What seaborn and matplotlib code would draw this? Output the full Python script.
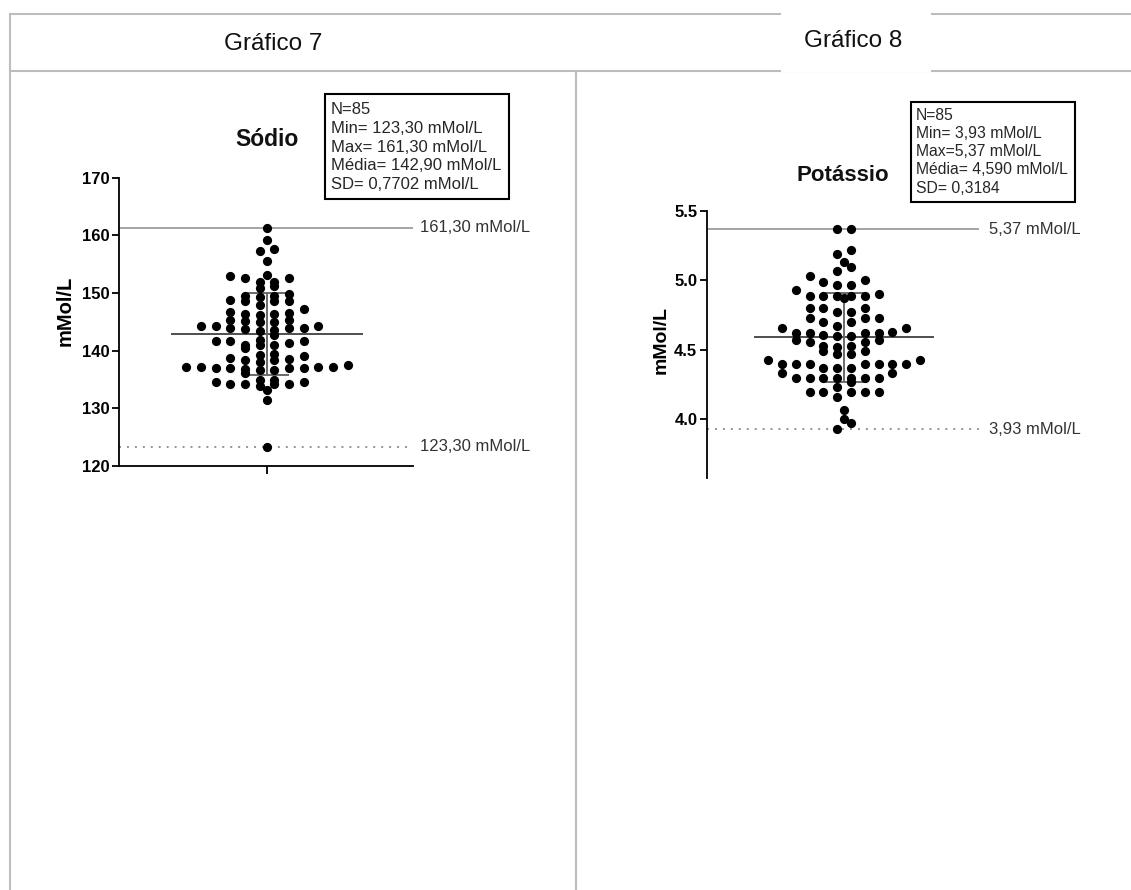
import numpy as np
import pandas as pd
import matplotlib
matplotlib.use("Agg")
import matplotlib.pyplot as plt
from matplotlib.lines import Line2D
from matplotlib.patches import Rectangle
import seaborn as sns

# ---------------- data ----------------
sodio = [137.2,
         144.3, 137.2, 134.9,
         149.3, 146.3, 143.9, 141.6, 139.3, 137.0, 133.8,
         153.0, 149.5, 146.5, 143.8, 140.9, 138.4, 136.6, 134.5,
         150.9, 149.4, 147.9, 146.7, 145.2, 143.4, 140.9, 139.0, 138.1, 137.0, 134.2,
         157.3, 151.9, 148.8, 145.4, 143.9, 142.7, 141.3, 137.5, 136.1, 134.9, 133.2,
         161.3, 159.2, 155.6, 131.4, 123.3,
         157.6, 152.6, 151.2, 149.9, 148.6, 145.4, 143.9, 141.9, 140.4, 138.8, 136.6, 134.2,
         153.2, 151.9, 148.6, 144.9, 141.6, 138.5, 136.8, 134.2,
         152.6, 148.6, 147.2, 146.2, 145.0, 144.2, 140.9, 137.0, 134.5,
         146.3, 143.6, 141.6, 139.5, 138.4, 137.0, 134.2,
         144.2, 137.2,
         137.2]

potassio = [4.40, 4.30,
            4.89, 4.62, 4.57, 4.40, 4.33,
            4.97, 4.89, 4.77, 4.67, 4.61, 4.49, 4.40, 4.30, 4.20,
            5.00, 4.80, 4.73, 4.66, 4.60, 4.53, 4.47, 4.37, 4.30, 4.20,
            5.37, 5.19, 5.13, 5.03, 4.93, 4.87, 4.80, 4.73, 4.62, 4.56, 4.49,
            4.43, 4.37, 4.30, 4.20, 4.00, 3.93,
            4.07,
            5.37, 5.22, 5.10, 4.99, 4.90, 4.70, 4.62, 4.56, 4.40, 4.30, 4.23, 4.16, 3.97,
            5.07, 4.97, 4.89, 4.77, 4.70, 4.63, 4.53, 4.47, 4.40, 4.33, 4.27, 4.20,
            4.89, 4.80, 4.73, 4.66, 4.60, 4.52, 4.40, 4.30, 4.20,
            4.89, 4.62, 4.57, 4.43, 4.37, 4.30,
            4.40]

# summary values (as reported)
sodio_mean, sodio_min, sodio_max = 142.90, 123.30, 161.30
sodio_sd_bar = 7.15
potassio_mean, potassio_min, potassio_max = 4.590, 3.93, 5.37
potassio_sd = 0.3184

sodio_ticks = [120, 130, 140, 150, 160, 170]
potassio_ticks = [4.0, 4.5, 5.0, 5.5]

sodio_stats = ["N=85", "Min= 123,30 mMol/L", "Max= 161,30 mMol/L",
               "Média= 142,90 mMol/L", "SD= 0,7702 mMol/L"]
potassio_stats = ["N=85", "Min= 3,93 mMol/L", "Max=5,37 mMol/L",
                  "Média= 4,590 mMol/L", "SD= 0,3184"]

# ---------------- style ----------------
sns.set_theme(style="white")
plt.rcParams["font.family"] = ["Liberation Sans", "DejaVu Sans"]

W, H = 1131, 890
fig = plt.figure(figsize=(W / 100, H / 100), dpi=100)
fig.patch.set_facecolor("white")


def fx(px):
    return px / W


def fy(py):
    return 1 - py / H


def grid_offsets(values, bin_height, bin_centre):
    """Column-scatter layout: values in the same y-bin share a row,
    spread outwards on half-step columns (single values stay centred)."""
    vals = np.asarray(values, dtype=float)
    bins = np.floor((vals - bin_centre) / bin_height + 0.5).astype(int)
    offsets = np.zeros(len(vals))
    for b in np.unique(bins):
        row = np.where(bins == b)[0]
        row = row[np.argsort(vals[row], kind="stable")]
        if len(row) == 1:
            continue
        for k, i in enumerate(row):
            col = k // 2 + 0.5
            offsets[i] = -col if k % 2 == 0 else col
    return offsets


GREY_LINE = "#8c8c8c"
TXT = "#262626"


def dot_panel(ax, values, bin_h, bin_c, mean, sd, vmin, vmax, xlim, ylim, ticks,
              tick_fmt, max_lab, min_lab, lab_off):
    df = pd.DataFrame({"valor": values})
    df["col"] = grid_offsets(df["valor"], bin_h, bin_c)
    ax.hlines(vmax, xlim[0], xlim[1], color=GREY_LINE, lw=1.1, zorder=1)
    ax.hlines(vmin, xlim[0], xlim[1], color=GREY_LINE, lw=1.3,
              linestyles=(0, (1.1, 3.3)), zorder=1)
    ax.hlines(mean, -6.5, 6.5, color="#404040", lw=1.3, zorder=2)
    ax.vlines(0, mean - sd, mean + sd, color="#6a6a6a", lw=1.4, zorder=2)
    ax.hlines([mean - sd, mean + sd], -1.5, 1.5, color="#6a6a6a", lw=1.4, zorder=2)
    sns.scatterplot(data=df, x="col", y="valor", ax=ax, color="black", s=44,
                    linewidth=0, zorder=3, legend=False)
    ax.set_xlim(*xlim)
    ax.set_ylim(*ylim)
    ax.set_yticks(ticks)
    ax.set_yticklabels([tick_fmt(t) for t in ticks])
    ax.set_xlabel("")
    ax.tick_params(axis="y", left=True, length=5, width=1.3, pad=2,
                   labelsize=12, colors="black")
    for lab in ax.get_yticklabels():
        lab.set_fontweight("bold")
    for val, lab in ((vmax, max_lab), (vmin, min_lab)):
        ax.annotate(lab, xy=(1, val), xycoords=("axes fraction", "data"),
                    xytext=(lab_off, 0), textcoords="offset points",
                    ha="left", va="center", fontsize=12, color="#333333")
    ax.set_facecolor("none")
    return ax


# ---- Sódio panel ----
ax1 = fig.add_axes([fx(119), fy(466), 294 / W, 288.3 / H])
dot_panel(ax1, sodio, 1.4, 137.0, sodio_mean, sodio_sd_bar, sodio_min, sodio_max,
          (-10.07, 9.93), (120, 170), sodio_ticks,
          lambda t: f"{t:d}", "161,30 mMol/L", "123,30 mMol/L", 5)
sns.despine(ax=ax1)
for side in ("left", "bottom"):
    ax1.spines[side].set_linewidth(1.3)
    ax1.spines[side].set_color("black")
ax1.set_xticks([0])
ax1.set_xticklabels([""])
ax1.tick_params(axis="x", bottom=True, length=6, width=1.3, colors="black")
ax1.set_ylabel("mMol/L", fontsize=14.5, fontweight="bold", color="black",
               va="center", ha="center")
ax1.yaxis.set_label_coords((65 - 119) / 294, (466 - 311) / 288.3)
ax1.text((267 - 119) / 294, (466 - 140) / 288.3, "Sódio", transform=ax1.transAxes,
         ha="center", va="center", fontsize=16.5, fontweight="bold", color="#111111")

# ---- Potássio panel ----
k_bottom = 4.0 - (478.3 - 419.3) / 138.9
ax2 = fig.add_axes([fx(707), fy(478.3), 272 / W, 267.3 / H])
dot_panel(ax2, potassio, 0.075, 4.40, potassio_mean, potassio_sd, potassio_min, potassio_max,
          (-9.93, 9.78), (k_bottom, 5.5), potassio_ticks,
          lambda t: f"{t:.1f}", "5,37 mMol/L", "3,93 mMol/L", 7)
sns.despine(ax=ax2, bottom=True)
ax2.spines["left"].set_linewidth(1.3)
ax2.spines["left"].set_color("black")
ax2.set_xticks([])
ax2.set_ylabel("mMol/L", fontsize=14, fontweight="bold", color="black",
               va="center", ha="center")
ax2.yaxis.set_label_coords((661 - 707) / 272, (478.3 - 340) / 267.3)
ax2.text((843 - 707) / 272, (478.3 - 175) / 267.3, "Potássio", transform=ax2.transAxes,
         ha="center", va="center", fontsize=16, fontweight="bold", color="#111111")


# ---- summary boxes ----
def stats_box(x0, y0, x1, y1, lines, tx, ty0, dy, size):
    fig.add_artist(Rectangle((fx(x0), fy(y1)), (x1 - x0) / W, (y1 - y0) / H,
                             transform=fig.transFigure, fill=False,
                             ec="black", lw=1.5, zorder=5))
    for i, line in enumerate(lines):
        fig.text(fx(tx), fy(ty0 + i * dy), line, ha="left", va="center",
                 fontsize=size, color=TXT, zorder=6)


stats_box(325, 94, 509, 199, sodio_stats, 331, 110, 18.6, 12)
stats_box(911, 101.7, 1075, 201.7, potassio_stats, 916, 115, 18.3, 11.3)

# ---- table frame ----
BORDER = "#bdbdbd"
frame = [((9.5, 13.5), (1131, 13.5)),
         ((9.5, 70.5), (1131, 70.5)),
         ((9.5, 13.5), (9.5, 890)),
         ((576, 70.5), (576, 890))]
for (xa, ya), (xb, yb) in frame:
    fig.add_artist(Line2D([fx(xa), fx(xb)], [fy(ya), fy(yb)],
                          transform=fig.transFigure, color=BORDER, lw=1.5, zorder=0))
fig.add_artist(Rectangle((fx(781), fy(72)), (931 - 781) / W, 60 / H,
                         transform=fig.transFigure, fc="white", ec="none", zorder=1))

fig.text(fx(273), fy(44), "Gráfico 7", ha="center", va="center",
         fontsize=17.5, color="#111111", zorder=2)
fig.text(fx(853), fy(41), "Gráfico 8", ha="center", va="center",
         fontsize=17.5, color="#111111", zorder=2)

fig.savefig("out.png", dpi=100, facecolor="white")
